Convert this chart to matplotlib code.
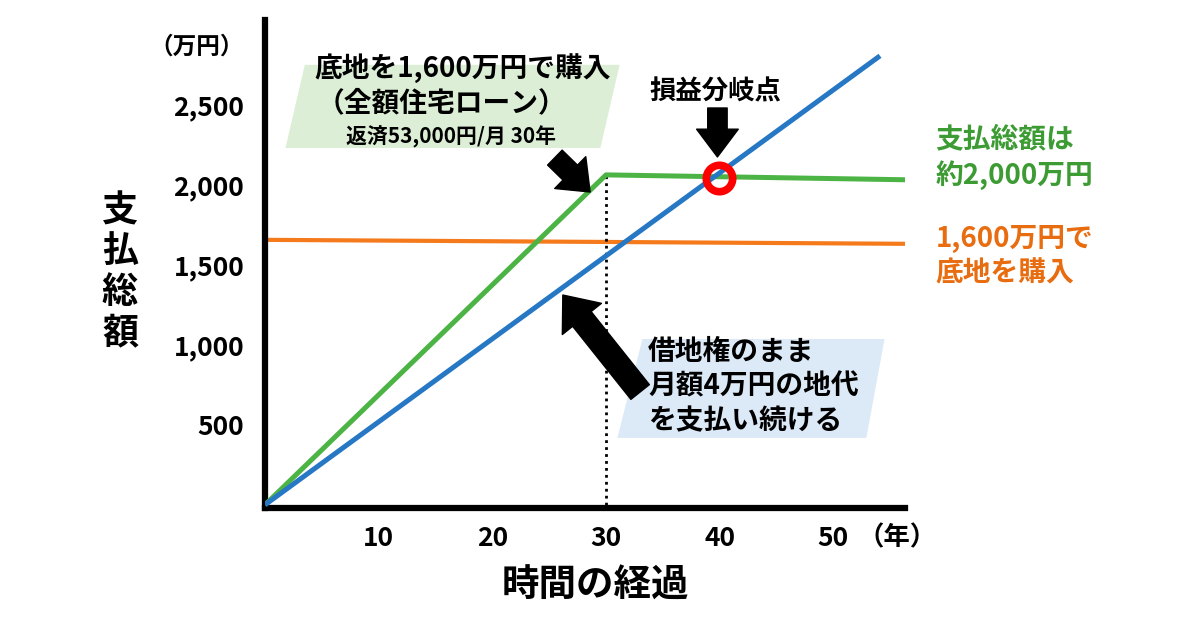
import numpy as np
import matplotlib.pyplot as plt
from matplotlib.patches import Polygon

plt.rcParams['font.family'] = ['Noto Sans CJK JP', 'DejaVu Sans']

# Data (years, 万円)
buy_years = [0, 30, 56.7]
buy_total = [0, 2062, 2031]        # ground purchase, 30-year loan
rent_years = [0, 54.1]
rent_total = [0, 2806]             # keep leasehold, 4万円/month
land_years = [0, 56.7]
land_price = [1656, 1631]          # 1,600万円 purchase level
breakeven = (39.9, 2040)

x_ticks = [10, 20, 30, 40, 50]
y_ticks = [500, 1000, 1500, 2000, 2500]

green = '#4cb445'
blue = '#2677c4'
orange = '#f57a1c'

fig = plt.figure(figsize=(12, 6.3), dpi=100)
ax = fig.add_axes([265 / 1200, 1 - 508 / 630, 640 / 1200, 488 / 630])
ax.set_xlim(0, 56.3)
ax.set_ylim(-20, 3030)

# background boxes behind the notes
ax.add_patch(Polygon([(1.8, 2230), (3.5, 2750), (31.2, 2750), (29.5, 2230)],
                     closed=True, fc='#dcefd6', ec='none', zorder=0))
ax.add_patch(Polygon([(33.2, 1036), (54.5, 1036), (52.9, 418), (31.0, 418)],
                     closed=True, fc='#dce9f6', ec='none', zorder=0))

# lines
ax.plot(land_years, land_price, color=orange, lw=3.0, solid_capstyle='butt', zorder=2)
ax.plot(buy_years, buy_total, color=green, lw=3.6, solid_capstyle='butt', zorder=3)
ax.plot(rent_years, rent_total, color=blue, lw=3.6, solid_capstyle='butt', zorder=3)
ax.plot([buy_years[1], buy_years[1]], [0, buy_total[1]], color='black', lw=2,
        ls=(0, (1, 1.5)), zorder=2)
ax.plot(*breakeven, 'o', ms=19, mfc='none', mec='#ff0000', mew=5.5, zorder=5)

# axes styling
for side in ['top', 'right']:
    ax.spines[side].set_visible(False)
for side in ['left', 'bottom']:
    ax.spines[side].set_linewidth(4.5)
    ax.spines[side].set_color('black')
    ax.spines[side].set_capstyle('projecting')
ax.spines['bottom'].set_position(('data', -20))
ax.set_xticks(x_ticks)
ax.set_yticks(y_ticks)
ax.set_yticklabels([f'{v:,}' for v in y_ticks])
ax.tick_params(length=0, labelsize=19, pad=12)
ax.tick_params(axis='y', pad=15)
for lab in ax.get_xticklabels() + ax.get_yticklabels():
    lab.set_fontweight('bold')

ax.annotate('（年）', xy=(55.6, 0), xycoords=('data', 'axes fraction'),
            xytext=(0, -12), textcoords='offset points', ha='center', va='top',
            fontsize=19, fontweight='bold', annotation_clip=False)
fig.text(197 / 1200, 1 - 47 / 630, '（万円）', ha='center', va='center',
         fontsize=17, fontweight='bold')
fig.text(120 / 1200, 1 - 272 / 630, '支\n払\n総\n額', ha='center', va='center',
         fontsize=26, fontweight='bold', linespacing=1.12)
fig.text(595 / 1200, 1 - 585 / 630, '時間の経過', ha='center', va='center',
         fontsize=27, fontweight='bold')

# notes
ax.text(17.4, 2730, '底地を1,600万円で購入', ha='center', va='center',
        fontsize=20, fontweight='bold')
ax.text(15.5, 2511, '（全額住宅ローン）', ha='center', va='center',
        fontsize=20, fontweight='bold')
ax.text(16.4, 2299, '返済53,000円/月 30年', ha='center', va='center',
        fontsize=15, fontweight='bold')
ax.text(39.6, 2580, '損益分岐点', ha='center', va='center',
        fontsize=19, fontweight='bold')
ax.text(33.7, 740, '借地権のまま\n月額4万円の地代\nを支払い続ける', ha='left',
        va='center', fontsize=20, fontweight='bold', linespacing=1.3)
ax.text(59.0, 2168, '支払総額は\n約2,000万円', ha='left', va='center',
        fontsize=20, fontweight='bold', color='#3c9b33', linespacing=1.3,
        clip_on=False)
ax.text(59.0, 1555, '1,600万円で\n底地を購入', ha='left', va='center',
        fontsize=20, fontweight='bold', color='#e86d10', linespacing=1.3,
        clip_on=False)

# arrows
for tail, head, sty in [((25.5, 2170), (28.6, 1955), 'simple,head_width=1.6,head_length=1.0,tail_width=0.75'),
                        ((33.0, 705), (26.2, 1311), 'simple,head_width=1.8,head_length=1.1,tail_width=0.85'),
                        ((39.8, 2480), (39.8, 2174), 'simple,head_width=1.5,head_length=1.0,tail_width=0.7')]:
    ax.annotate('', xy=head, xytext=tail,
                arrowprops=dict(arrowstyle=sty, fc='black', ec='black',
                                mutation_scale=20, shrinkA=0, shrinkB=0))

fig.savefig('out.png', dpi=100)
